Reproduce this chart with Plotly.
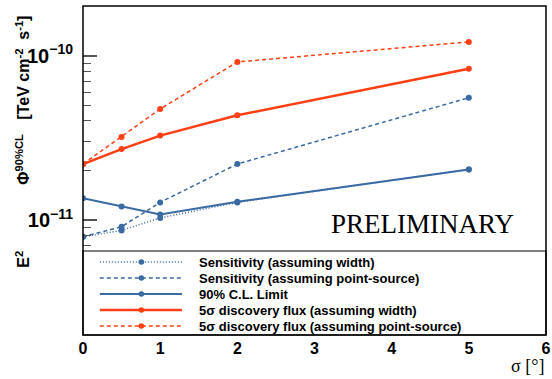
import plotly.graph_objects as go
import numpy as np

# ---------------- data ----------------
sigma = [0, 0.5, 1, 2, 5]
sens_width = [7.9e-12, 8.65e-12, 1.03e-11, 1.28e-11, 2.03e-11]
sens_point = [7.9e-12, 9.1e-12, 1.28e-11, 2.19e-11, 5.54e-11]
ul_90 = [1.355e-11, 1.21e-11, 1.08e-11, 1.29e-11, 2.03e-11]
disc_width = [2.19e-11, 2.70e-11, 3.26e-11, 4.33e-11, 8.32e-11]
disc_point = [2.19e-11, 3.20e-11, 4.73e-11, 9.14e-11, 1.21e-10]

legend_labels = [
    "Sensitivity (assuming width)",
    "Sensitivity (assuming point-source)",
    "90% C.L. Limit",
    "5σ discovery flux (assuming width)",
    "5σ discovery flux (assuming point-source)",
]
x_ticks = [0, 1, 2, 3, 4, 5, 6]

# ---------------- style ----------------
BLUE = "#3a6aa3"
RED = "#ff3f14"
W, H = 552, 379
L, R, T, B = 83, 1, 6, 44
PW, PH = W - L - R, H - T - B

series = [
    (sens_width, BLUE, 1.5, "1px,2px"),
    (sens_point, BLUE, 1.5, "4px,3px"),
    (ul_90, BLUE, 2, "solid"),
    (disc_width, RED, 2.5, "solid"),
    (disc_point, RED, 1.5, "4px,3px"),
]

fig = go.Figure()
for (vals, col, lw, dash), name in zip(series, legend_labels):
    fig.add_trace(go.Scatter(
        x=sigma, y=vals, mode="lines+markers", name=name,
        line=dict(color=col, width=lw, dash=dash),
        marker=dict(color=col, size=6),
        showlegend=False,
    ))

def px(xp):
    return (xp - L) / PW

def py(yp):
    return (H - B - yp) / PH

shapes = []
annotations = []

# legend box
shapes.append(dict(type="rect", xref="paper", yref="paper",
                   x0=0, x1=1, y0=0, y1=py(251),
                   fillcolor="white", line=dict(color="black", width=1.2),
                   layer="above"))
row_y = [262, 278, 294, 310, 326]
for (vals, col, lw, dash), name, ry in zip(series, legend_labels, row_y):
    yy = py(ry)
    shapes.append(dict(type="line", xref="paper", yref="paper",
                       x0=px(100), x1=px(183), y0=yy, y1=yy,
                       line=dict(color=col, width=lw, dash=dash), layer="above"))
    shapes.append(dict(type="circle", xref="paper", yref="paper",
                       xsizemode="pixel", ysizemode="pixel",
                       xanchor=px(142), yanchor=yy,
                       x0=-2.8, x1=2.8, y0=-2.8, y1=2.8,
                       fillcolor=col, line=dict(color=col, width=0), layer="above"))
    annotations.append(dict(xref="paper", yref="paper", x=px(198), y=yy,
                            xanchor="left", yanchor="middle", showarrow=False,
                            text=name,
                            font=dict(family="Liberation Sans", size=13,
                                      color="black", weight="bold")))

# frame
shapes.append(dict(type="rect", xref="paper", yref="paper",
                   x0=0, x1=1, y0=0, y1=1,
                   line=dict(color="black", width=1.5), layer="above"))

# PRELIMINARY
annotations.append(dict(xref="paper", yref="paper", x=px(426), y=py(224),
                        xanchor="center", yanchor="middle", showarrow=False,
                        text="PRELIMINARY",
                        font=dict(family="Liberation Serif", size=27, color="black")))
# x title
annotations.append(dict(xref="paper", yref="paper", x=1.0, y=py(366),
                        xanchor="right", yanchor="middle", showarrow=False,
                        text="σ [°]",
                        font=dict(family="Liberation Serif", size=18, color="black")))
# y title (three pieces, laid out like the reference)
ytitle_font = dict(family="Liberation Sans", size=16, color="black", weight="bold")
for txt, yc in [("E<sup>2</sup>", 259),
                ("Φ<sup>90%CL</sup>", 159),
                ("[TeV&nbsp;cm<sup>-2</sup>&nbsp;&nbsp;s<sup>-1</sup>]", 68)]:
    annotations.append(dict(xref="paper", yref="paper", x=px(22), y=py(yc),
                            xanchor="center", yanchor="middle", showarrow=False,
                            textangle=-90, text=txt, font=ytitle_font))

fig.update_layout(
    width=W, height=H,
    margin=dict(l=L, r=R, t=T, b=B, pad=0),
    paper_bgcolor="white", plot_bgcolor="white",
    shapes=shapes, annotations=annotations,
    showlegend=False,
)
fig.update_xaxes(
    range=[0, 6], tickvals=x_ticks, ticktext=[str(v) for v in x_ticks],
    showgrid=False, zeroline=False, showline=False, ticks="",
    tickfont=dict(family="Liberation Sans", size=16, color="black", weight="bold"),
    ticklabelstandoff=2, ticklabeloverflow="allow",
)
fig.update_yaxes(
    type="log", range=[np.log10(2e-12), np.log10(2e-10)],
    dtick=1, exponentformat="power", showexponent="all",
    showgrid=False, zeroline=False, showline=False,
    ticks="inside", ticklen=14, tickwidth=1.5, tickcolor="#555",
    minor=dict(ticks="inside", ticklen=8, tickwidth=1.2, tickcolor="#555", showgrid=False),
    tickfont=dict(family="Liberation Sans", size=16, color="black", weight="bold"),
    ticklabelstandoff=9,
)

fig.write_html("out.html", config={"displayModeBar": False},
               post_script="document.body.style.margin='0';document.body.style.padding='0';")
